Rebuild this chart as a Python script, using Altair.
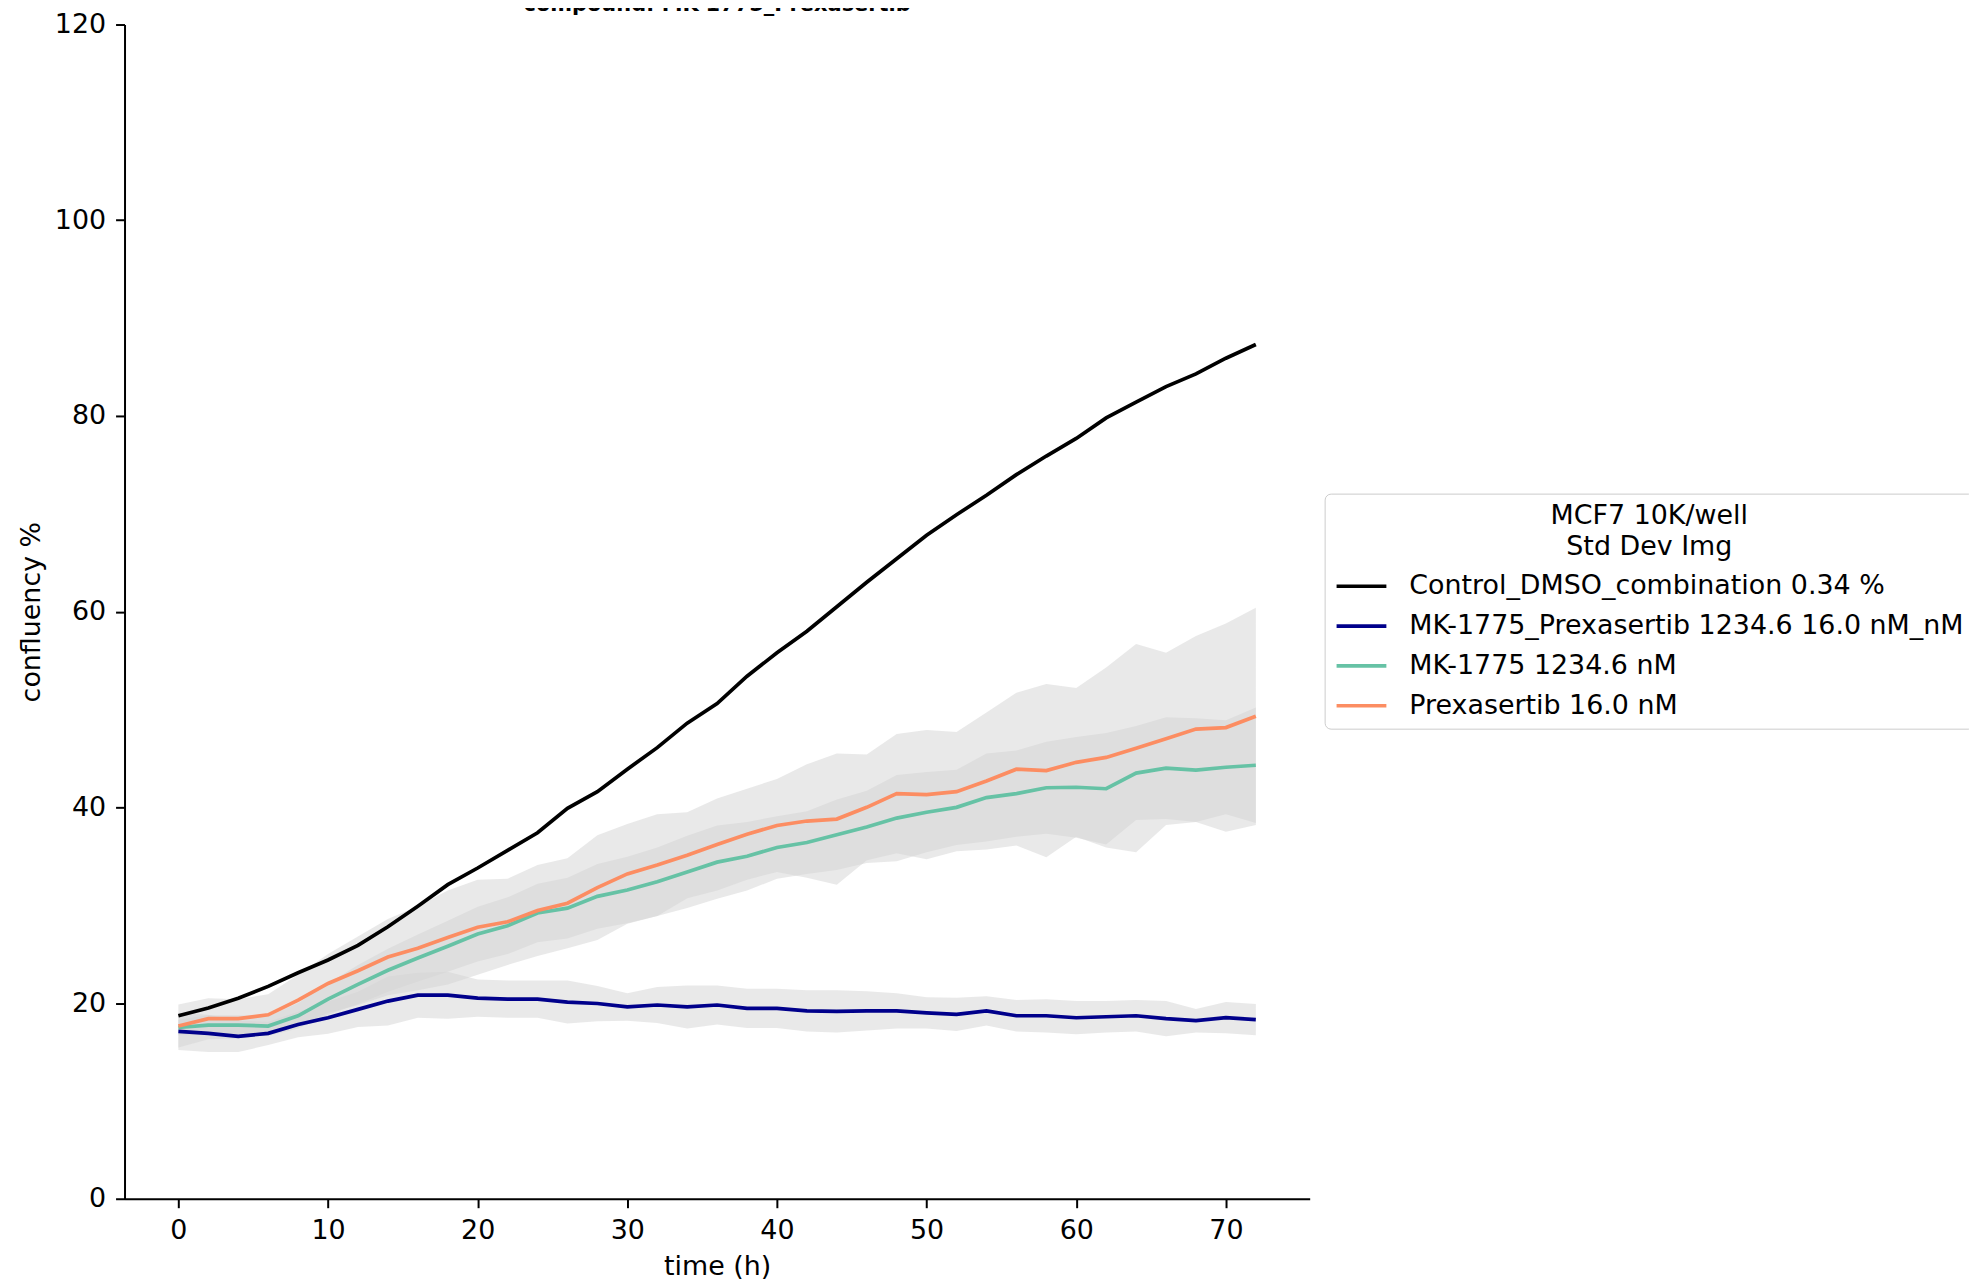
import altair as alt
import pandas as pd

# ---------------- data ----------------
time_h = list(range(0, 73, 2))

series_names = [
    "Control_DMSO_combination 0.34 %",
    "MK-1775_Prexasertib 1234.6 16.0 nM_nM",
    "MK-1775 1234.6 nM",
    "Prexasertib 16.0 nM",
]
series_colors = ["#000000", "#00008b", "#66c2a5", "#fc8d62"]

control_mean = [18.7, 19.5, 20.5, 21.7, 23.1, 24.4, 25.9, 27.8, 29.9, 32.1,
                33.8, 35.6, 37.4, 39.9, 41.6, 43.9, 46.1, 48.6, 50.6, 53.4,
                55.8, 58.0, 60.5, 63.0, 65.4, 67.8, 69.9, 71.9, 74.0, 75.9,
                77.7, 79.8, 81.4, 83.0, 84.3, 85.9, 87.3]

combo_mean = [17.1, 16.9, 16.6, 16.9, 17.8, 18.5, 19.35, 20.2, 20.8, 20.8,
              20.5, 20.4, 20.4, 20.1, 19.95, 19.6, 19.8, 19.6, 19.8, 19.45,
              19.45, 19.2, 19.15, 19.2, 19.2, 19.0, 18.85, 19.2, 18.7, 18.7,
              18.5, 18.6, 18.7, 18.4, 18.2, 18.5, 18.3]
combo_sd = [1.9, 1.9, 1.6, 1.2, 1.3, 1.65, 1.8, 2.5, 2.3, 2.4,
            1.9, 1.9, 1.9, 2.2, 1.8, 1.4, 1.85, 2.2, 2.0, 2.0,
            2.0, 2.1, 2.15, 2.0, 1.8, 1.6, 1.7, 1.5, 1.6, 1.7,
            1.7, 1.6, 1.6, 1.8, 1.2, 1.6, 1.6]

mk_mean = [17.5, 17.75, 17.75, 17.65, 18.7, 20.4, 21.9, 23.35, 24.6, 25.8,
           27.05, 27.9, 29.2, 29.7, 30.9, 31.55, 32.4, 33.4, 34.4, 35.0,
           35.9, 36.4, 37.2, 38.0, 38.9, 39.5, 40.0, 41.0, 41.4, 42.0,
           42.05, 41.9, 43.5, 44.0, 43.8, 44.1, 44.3]
mk_sd = [0.8, 1.0, 1.0, 1.0, 1.3, 1.6, 2.0, 2.2, 2.4, 2.6,
         2.8, 2.9, 3.0, 3.1, 3.3, 3.4, 3.5, 3.7, 3.75, 3.5,
         3.2, 3.2, 3.6, 3.7, 4.4, 4.1, 3.85, 4.5, 4.4, 4.7,
         5.15, 5.7, 4.8, 5.2, 5.3, 4.8, 5.9]

prex_mean = [17.65, 18.4, 18.4, 18.8, 20.3, 22.0, 23.3, 24.7, 25.6, 26.7,
             27.75, 28.3, 29.45, 30.2, 31.8, 33.2, 34.1, 35.1, 36.2, 37.25,
             38.15, 38.6, 38.8, 40.0, 41.4, 41.3, 41.6, 42.7, 43.9, 43.75,
             44.6, 45.1, 46.05, 47.0, 48.0, 48.15, 49.3]
prex_sd = [2.2, 2.1, 2.0, 2.1, 2.6, 3.0, 3.5, 3.9, 4.3, 4.8,
           4.85, 4.4, 4.65, 4.6, 5.35, 5.1, 5.2, 4.4, 4.7, 4.65,
           4.75, 5.8, 6.7, 5.4, 6.1, 6.6, 6.1, 7.0, 7.8, 8.85,
           7.6, 9.2, 10.65, 8.8, 9.5, 10.65, 11.1]

x_ticks = [0, 10, 20, 30, 40, 50, 60, 70]
y_ticks = [0, 20, 40, 60, 80, 100, 120]
title_text = "compound: MK-1775_Prexasertib"
legend_title = ["MCF7 10K/well", "Std Dev Img"]

# ---------------- tables ----------------
line_rows = []
for name, means in zip(series_names, [control_mean, combo_mean, mk_mean, prex_mean]):
    for t, m in zip(time_h, means):
        line_rows.append({"series": name, "t": t, "mean": m})
lines_df = pd.DataFrame(line_rows)

band_rows = []
for name, means, sds in zip(series_names[1:], [combo_mean, mk_mean, prex_mean],
                            [combo_sd, mk_sd, prex_sd]):
    for t, m, s in zip(time_h, means, sds):
        band_rows.append({"series": name, "t": t, "lo": m - s, "hi": m + s})
band_df = pd.DataFrame(band_rows)

FONT = "DejaVu Sans"
FS = 27

x_enc = alt.X("t:Q", scale=alt.Scale(domain=[-3.6, 75.6], nice=False, zero=False),
              axis=alt.Axis(values=x_ticks, title="time (h)", format="d",
                            labelPadding=10, titlePadding=10))
y_scale = alt.Scale(domain=[0, 120], nice=False)

bands = alt.Chart(band_df).mark_area(fill="lightgray", fillOpacity=0.5, strokeWidth=0).encode(
    x=x_enc,
    y=alt.Y("lo:Q", scale=y_scale,
            axis=alt.Axis(values=y_ticks, title="confluency %", labelPadding=10, titlePadding=9)),
    y2="hi:Q",
    detail="series:N",
)

lines = alt.Chart(lines_df).mark_line(strokeWidth=3.7).encode(
    x=x_enc,
    y=alt.Y("mean:Q", scale=y_scale),
    color=alt.Color(
        "series:N",
        sort=series_names,
        scale=alt.Scale(domain=series_names, range=series_colors),
        legend=alt.Legend(
            title=legend_title,
            orient="none",
            legendX=1205,
            legendY=471,
            symbolType="stroke",
            symbolStrokeWidth=3.7,
            symbolSize=2500,
            labelFontSize=FS,
            labelFont=FONT,
            labelColor="black",
            labelLimit=0,
            labelOffset=21,
            titleFontSize=FS,
            titleFont=FONT,
            titleFontWeight="normal",
            titleColor="black",
            titleAnchor="middle",
            titleAlign="center",
            titleLimit=0,
            titleLineHeight=31,
            titlePadding=-2,
            padding=10,
            rowPadding=-12,
            strokeColor="#cccccc",
            fillColor="white",
            cornerRadius=6,
        ),
    ),
)

title_df = pd.DataFrame({"label": [title_text]})
title = alt.Chart(title_df).mark_text(
    fontWeight="bold", fontSize=21, baseline="alphabetic", align="center", font=FONT, color="black"
).encode(text="label:N", x=alt.value(595), y=alt.value(-14))

chart = (
    alt.layer(bands, lines, title)
    .properties(
        width=1190,
        height=1179,
        autosize=alt.AutoSizeParams(type="none"),
        padding={"left": 117, "top": 14, "right": 662, "bottom": 81},
    )
    .configure(font=FONT)
    .configure_view(stroke=None)
    .configure_axis(
        grid=False,
        labelFontSize=FS,
        titleFontSize=FS,
        titleFontWeight="normal",
        labelFont=FONT,
        titleFont=FONT,
        labelColor="black",
        titleColor="black",
        domainColor="black",
        domainWidth=2,
        tickColor="black",
        tickWidth=2,
        tickSize=9,
    )
)

chart.save("out.html", embed_options={"renderer": "svg", "actions": False})
